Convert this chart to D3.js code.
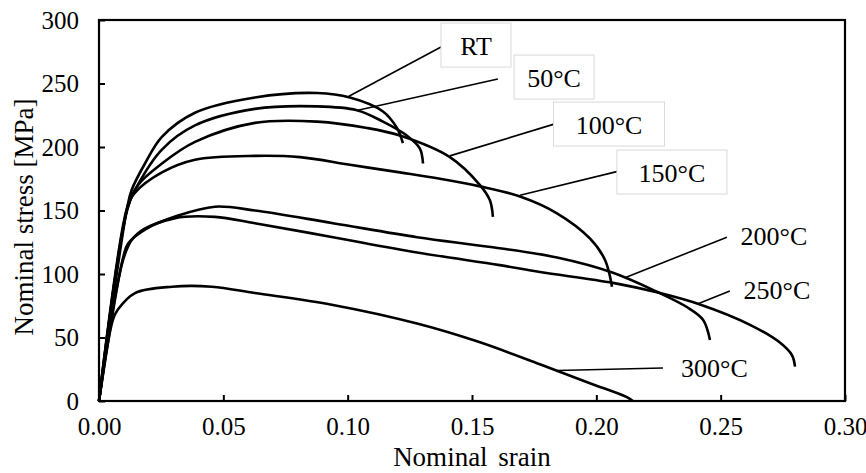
<!DOCTYPE html>
<html>
<head>
<meta charset="utf-8">
<script src="https://cdn.jsdelivr.net/npm/d3@7"></script>
<style>
  body { margin: 0; background: #fff; }
  text { font-family: "Liberation Serif", "Times New Roman", serif; fill: #000; }
</style>
</head>
<body>
<div id="chart"></div>
<script>
// stress-strain curves, [strain, stress MPa]
var curveRT = [[0,0],[0.0113,152],[0.0131,166],[0.0185,187],[0.0253,208],[0.0386,227],[0.0627,239],[0.0877,242.5],[0.1009,239],[0.1142,228],[0.1198,215],[0.1222,203]];
var curve50 = [[0,0],[0.0113,151],[0.015,168],[0.0253,198],[0.0386,217],[0.0627,230],[0.0877,232],[0.1037,229],[0.1142,220],[0.1238,209],[0.129,199],[0.1303,187]];
var curve100 = [[0,0],[0.0113,150],[0.0157,170],[0.0253,187],[0.0386,204],[0.0627,219],[0.0877,220],[0.1078,215],[0.121,209],[0.1411,192],[0.1532,170],[0.1572,158],[0.1584,145]];
var curve150 = [[0,0],[0.0113,152],[0.0145,164],[0.0253,180],[0.0386,190],[0.0627,193],[0.0808,192],[0.1009,186],[0.121,180],[0.1371,175],[0.1532,169],[0.1693,161],[0.184,148],[0.1974,128],[0.2035,111],[0.2063,90]];
var curve200 = [[0,0],[0.0097,113],[0.0117,124],[0.0185,135],[0.0318,146],[0.0466,153],[0.0627,150],[0.0941,140],[0.1279,129],[0.1584,121],[0.1842,113],[0.2067,101],[0.2244,86],[0.2364,74],[0.2429,64],[0.2457,48]];
var curve250 = [[0,0],[0.0105,116],[0.0157,132],[0.0306,144],[0.0466,145],[0.0627,140],[0.0941,129],[0.1279,117],[0.1612,107],[0.1773,101.6],[0.2067,93],[0.2256,85],[0.2417,76],[0.2618,60],[0.2738,46],[0.2787,36],[0.2799,27]];
var curve300 = [[0,0],[0.0056,64],[0.0076,72],[0.0145,85],[0.0294,90],[0.0454,90],[0.0627,85],[0.0941,75.6],[0.1279,61],[0.152,47],[0.1773,29],[0.1974,14],[0.2123,3],[0.2147,0]];

var seriesNames = ["RT", "50°C", "100°C", "150°C", "200°C", "250°C", "300°C"];
var seriesData = [curveRT, curve50, curve100, curve150, curve200, curve250, curve300];

var xTicks = [0, 0.05, 0.10, 0.15, 0.20, 0.25, 0.30];
var yTicks = [0, 50, 100, 150, 200, 250, 300];

// label layout: text spot and leader ends in data units, box half width in px
var notes = [
  {name: "RT",    tx: 0.1516, ty: 272.4, lx: 0.1383, ly: 279.5, cx: 0.1005, cy: 240,  boxW: 35},
  {name: "50°C",  tx: 0.1830, ty: 247.2, lx: 0.1604, ly: 253.5, cx: 0.1041, cy: 229,  boxW: 40},
  {name: "100°C", tx: 0.2051, ty: 210.2, lx: 0.1830, ly: 218,   cx: 0.1411, cy: 193,  boxW: 55.5},
  {name: "150°C", tx: 0.2304, ty: 172.4, lx: 0.2111, ly: 182,   cx: 0.1693, cy: 162,  boxW: 55},
  {name: "200°C", tx: 0.2714, ty: 122.8, lx: 0.2525, ly: 129,   cx: 0.2115, cy: 97,   boxW: 0},
  {name: "250°C", tx: 0.2726, ty: 80.3,  lx: 0.2537, ly: 86.6,  cx: 0.2409, cy: 76.5, boxW: 0},
  {name: "300°C", tx: 0.2475, ty: 18.9,  lx: 0.2268, ly: 26,    cx: 0.1842, cy: 24,   boxW: 0}
];

var W = 866, H = 473;
var serif = '"Liberation Serif", "Times New Roman", serif';
var margin = {top: 20, right: 21, bottom: 72, left: 99},
    width = W - margin.left - margin.right,
    height = H - margin.top - margin.bottom;

var svg = d3.select("#chart").append("svg")
    .attr("width", W)
    .attr("height", H);

var g = svg.append("g")
    .attr("transform", "translate(" + margin.left + "," + margin.top + ")");

var x = d3.scaleLinear().domain([0, 0.30]).range([0, width]);
var y = d3.scaleLinear().domain([0, 300]).range([height, 0]);

// axes, ticks pointing inward
var yAxis = g.append("g")
    .call(d3.axisLeft(y).tickValues(yTicks).tickSizeInner(-6).tickSizeOuter(0).tickPadding(20));
var xAxis = g.append("g")
    .attr("transform", "translate(0," + height + ")")
    .call(d3.axisBottom(x).tickValues(xTicks).tickFormat(d3.format(".2f")).tickSizeInner(-6).tickSizeOuter(0).tickPadding(16));

[xAxis, yAxis].forEach(function(a) {
  a.attr("font-family", serif).attr("font-size", 25);
  a.select(".domain").remove();
  a.selectAll("line").attr("stroke", "#000").attr("stroke-width", 2);
  a.selectAll("text").attr("fill", "#000");
});

// plot frame
g.append("rect")
    .attr("x", 0).attr("y", 0)
    .attr("width", width).attr("height", height)
    .attr("fill", "none")
    .attr("stroke", "#000")
    .attr("stroke-width", 2.2);

var line = d3.line()
    .x(function(d) { return x(d[0]); })
    .y(function(d) { return y(d[1]); })
    .curve(d3.curveCatmullRom.alpha(0.5));

g.append("g").selectAll("path")
    .data(seriesData)
    .enter().append("path")
      .attr("d", line)
      .attr("fill", "none")
      .attr("stroke", "#000")
      .attr("stroke-width", 2.6)
      .attr("stroke-linejoin", "round");

// leaders
g.append("g").selectAll("line")
    .data(notes)
    .enter().append("line")
      .attr("x1", function(d) { return x(d.lx); })
      .attr("y1", function(d) { return y(d.ly); })
      .attr("x2", function(d) { return x(d.cx); })
      .attr("y2", function(d) { return y(d.cy); })
      .attr("stroke", "#000")
      .attr("stroke-width", 1.6);

// label boxes (only the upper ones have a visible frame)
g.append("g").selectAll("rect")
    .data(notes.filter(function(d) { return d.boxW > 0; }))
    .enter().append("rect")
      .attr("x", function(d) { return x(d.tx) - d.boxW; })
      .attr("y", function(d) { return y(d.ty) - 32; })
      .attr("width", function(d) { return 2 * d.boxW; })
      .attr("height", 44)
      .attr("fill", "#fff")
      .attr("stroke", "#d9d9d9")
      .attr("stroke-width", 1);

g.append("g").selectAll("text")
    .data(notes)
    .enter().append("text")
      .attr("x", function(d) { return x(d.tx); })
      .attr("y", function(d) { return y(d.ty); })
      .attr("text-anchor", "middle")
      .style("font-family", serif)
      .style("font-size", "26px")
      .text(function(d) { return d.name; });

// axis titles
svg.append("text")
    .attr("x", margin.left + width / 2)
    .attr("y", 466)
    .attr("text-anchor", "middle")
    .style("font-family", serif)
    .style("font-size", "27px")
    .style("word-spacing", "4px")
    .text("Nominal srain");

svg.append("text")
    .attr("transform", "translate(33," + (margin.top + 197) + ") rotate(-90)")
    .attr("text-anchor", "middle")
    .style("font-family", serif)
    .style("font-size", "27px")
    .text("Nominal stress [MPa]");
</script>
</body>
</html>
